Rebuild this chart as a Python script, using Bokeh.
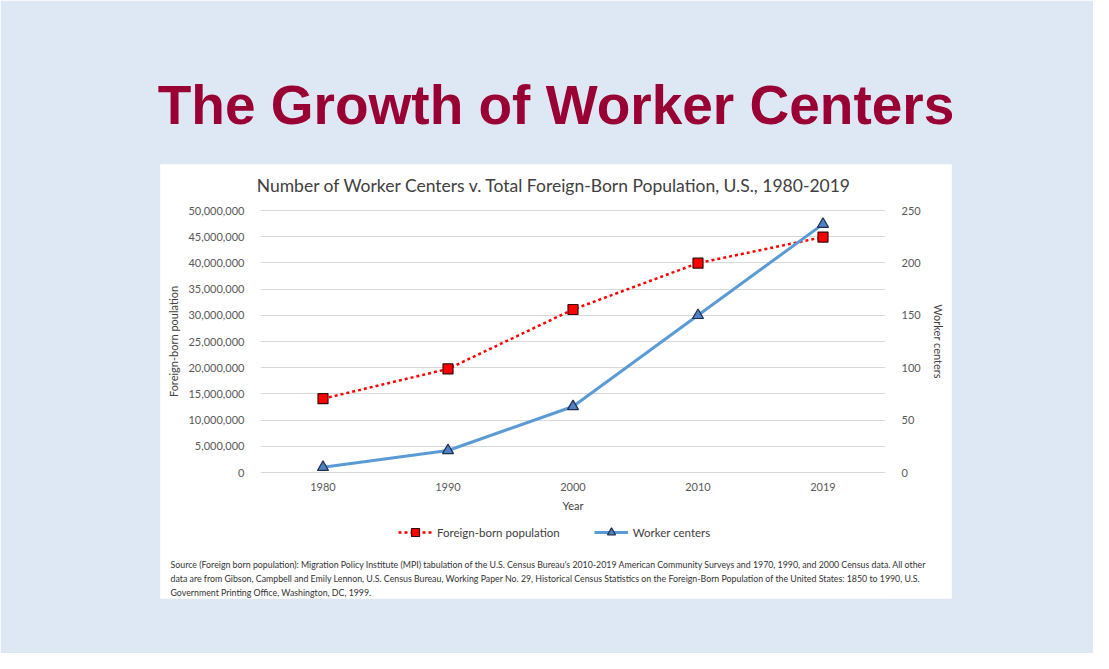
from bokeh.plotting import figure
from bokeh.models import (Range1d, LinearAxis, NumeralTickFormatter, FixedTicker,
                          Legend, LegendItem, Label, Title, BoxAnnotation)
from bokeh.embed import file_html
from bokeh.resources import INLINE

# ---- data ----
years = ["1980", "1990", "2000", "2010", "2019"]
foreign_born = [14079906, 19767316, 31107889, 39955854, 44932799]
worker_centers = [5, 21, 63, 150, 237]
left_ticks = [0, 5000000, 10000000, 15000000, 20000000, 25000000,
              30000000, 35000000, 40000000, 45000000, 50000000]
right_ticks = [0, 50, 100, 150, 200, 250]

page_title = "The Growth of Worker Centers"
chart_title = "Number of Worker Centers v. Total Foreign-Born Population, U.S., 1980-2019"
source_lines = [
    "Source (Foreign born population): Migration Policy Institute (MPI) tabulation of the U.S. Census Bureau's 2010-2019 American Community Surveys and 1970, 1990, and 2000 Census data. All other",
    "data are from Gibson, Campbell and Emily Lennon, U.S. Census Bureau, Working Paper No. 29, Historical Census Statistics on the Foreign-Born Population of the United States: 1850 to 1990, U.S.",
    "Government Printing Office, Washington, DC, 1999.",
]

BG = "#dee8f4"
FONT = "Lato"

# ---- layout geometry (page pixels) ----
W, H = 1093, 653
BOX_L, BOX_R, BOX_T, BOX_B = 160, 951, 164, 598      # white chart panel = plot frame
PL, PR, PT, PB = 260, 885, 210, 472                  # plotting area inside it
YMAX, WCMAX = 50000000, 250
NCAT = len(years)
CAT_W = (PR - PL) / NCAT
x_pos = [i + 0.5 for i in range(NCAT)]               # category slots


def px(x):
    return (x - PL) / CAT_W


def py(y):
    return (PB - y) * YMAX / (PB - PT)


p = figure(width=W, height=H, toolbar_location=None, output_backend="svg", title=None,
           x_range=Range1d(px(BOX_L), px(BOX_R)), y_range=Range1d(py(BOX_B), py(BOX_T)),
           min_border_left=BOX_L, min_border_right=W - BOX_R,
           min_border_top=BOX_T, min_border_bottom=H - BOX_B,
           background_fill_color="white", border_fill_color=BG, outline_line_color=None)
p.extra_y_ranges = {"wc": Range1d(py(BOX_B) * WCMAX / YMAX, py(BOX_T) * WCMAX / YMAX)}

# grid only across the plotting area
p.xgrid.grid_line_color = None
p.ygrid.grid_line_color = "#d9d9d9"
p.ygrid.ticker = FixedTicker(ticks=left_ticks)
try:
    p.ygrid.cross_bounds = (0, NCAT)
except Exception:
    pass
p.add_layout(BoxAnnotation(right=0, fill_color="white", fill_alpha=1.0,
                           line_color=None, level="underlay"))
p.add_layout(BoxAnnotation(left=NCAT, fill_color="white", fill_alpha=1.0,
                           line_color=None, level="underlay"))

r1 = p.line(x_pos, foreign_born, line_color="#ff0000", line_width=2.5, line_dash="3 3")
s1 = p.scatter(x_pos, foreign_born, marker="square", size=10, fill_color="#ff0000",
               line_color="#3a0a0a", line_width=1.2)
r2 = p.line(x_pos, worker_centers, y_range_name="wc", line_color="#5b9bd5", line_width=3)
s2 = p.scatter(x_pos, worker_centers, y_range_name="wc", marker="triangle", size=11,
               fill_color="#4f81c4", line_color="#1f2f4f", line_width=1.2)

rax = LinearAxis(y_range_name="wc", ticker=FixedTicker(ticks=right_ticks),
                 axis_label="Worker centers")
p.add_layout(rax, "right")

for ax in [p.xaxis[0], p.yaxis[0], rax]:
    ax.axis_line_color = None
    ax.major_tick_line_color = None
    ax.minor_tick_line_color = None
    ax.major_label_text_font = FONT
    ax.major_label_text_font_size = "11px"
    ax.major_label_text_color = "#595959"
    ax.axis_label_text_font = FONT
    ax.axis_label_text_font_size = "11px"
    ax.axis_label_text_font_style = "normal"
    ax.axis_label_text_color = "#404040"

yax = p.yaxis[0]
yax.ticker = FixedTicker(ticks=left_ticks)
yax.formatter = NumeralTickFormatter(format="0,0")
yax.axis_label = "Foreign-born poulation"
yax.fixed_location = 0
yax.bounds = (0, YMAX)
yax.major_label_standoff = 10
yax.axis_label_standoff = 5

xax = p.xaxis[0]
xax.ticker = FixedTicker(ticks=x_pos)
xax.major_label_overrides = {x: y for x, y in zip(x_pos, years)}
xax.axis_label = "Year"
xax.fixed_location = 0
xax.bounds = (0, NCAT)
xax.major_label_standoff = 4
xax.axis_label_standoff = 5

rax.fixed_location = NCAT
rax.bounds = (0, WCMAX)
rax.major_label_standoff = 10
rax.axis_label_standoff = 8

legend = Legend(items=[LegendItem(label="Foreign-born population", renderers=[r1, s1]),
                       LegendItem(label="Worker centers", renderers=[r2, s2])],
                orientation="horizontal", location=(238, 56),
                border_line_color=None, background_fill_alpha=0,
                label_text_font=FONT, label_text_font_size="11.5px",
                label_text_color="#404040", glyph_width=34, spacing=34,
                padding=4, margin=0)
p.add_layout(legend)

p.add_layout(Label(x=px(554), y=py(185), text=chart_title, text_align="center",
                   text_baseline="middle", text_font=FONT, text_font_size="17.5px",
                   text_color="#404040"))

for i, line in enumerate(source_lines):
    p.add_layout(Label(x=px(170), y=py(564 + 14 * i), text=line, text_font=FONT,
                       text_font_size="8.8px", text_color="#333333", text_baseline="middle"))

p.add_layout(Title(text=page_title, align="center", standoff=57,
                   text_font="Liberation Sans", text_font_size="55px",
                   text_font_style="bold", text_color="#990033"), "above")

open("out.html", "w").write(file_html(p, INLINE))
